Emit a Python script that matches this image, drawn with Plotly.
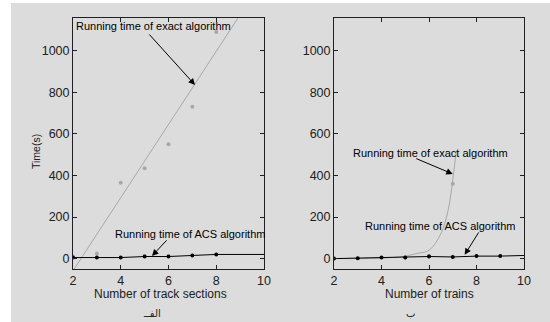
import plotly.graph_objects as go

W, H = 550, 322

# ---- data: left panel (track sections) ----
sec_x = [2, 3, 4, 5, 6, 7, 8]
sec_acs = [5, 5, 5, 10, 10, 15, 20]
sec_acs_line_x = [2, 3, 4, 5, 6, 7, 8, 10]
sec_acs_line_y = [5, 5, 5, 10, 10, 15, 20, 20]
sec_exact = [10, 25, 365, 435, 550, 730, 1090]
sec_fit_x = [2.05, 8.91]
sec_fit_y = [-50, 1157]

# ---- data: right panel (trains) ----
tr_x = [2, 3, 4, 5, 6, 7, 8, 9]
tr_acs = [0, 2, 5, 5, 10, 8, 12, 12]
tr_acs_line_x = [2, 3, 4, 5, 6, 7, 8, 9, 10]
tr_acs_line_y = [0, 2, 5, 5, 10, 8, 12, 12, 15]
tr_exact_x = [5, 6, 7]
tr_exact = [5, 13, 360]
tr_curve_x = [2, 3, 4, 4.5, 5, 5.5, 6, 6.5, 6.8, 7, 7.15]
tr_curve_y = [0, 0, 2, 6, 12, 25, 40, 120, 230, 380, 520]

x_ticks = [2, 4, 6, 8, 10]
y_ticks = [0, 200, 400, 600, 800, 1000]

BG = "#dcdcdc"
GRAY = "#a8a8a8"
FONT = "Liberation Sans, Arial, sans-serif"

def px_x(p):
    return p / W

def px_y(p):
    return 1 - p / H

fig = go.Figure()

# left panel
fig.add_trace(go.Scatter(x=sec_fit_x, y=sec_fit_y, mode="lines",
                         line=dict(color=GRAY, width=1), xaxis="x", yaxis="y"))
fig.add_trace(go.Scatter(x=sec_x, y=sec_exact, mode="markers",
                         marker=dict(color=GRAY, size=4), xaxis="x", yaxis="y"))
fig.add_trace(go.Scatter(x=sec_acs_line_x, y=sec_acs_line_y, mode="lines",
                         line=dict(color="black", width=1), xaxis="x", yaxis="y"))
fig.add_trace(go.Scatter(x=sec_x, y=sec_acs, mode="markers",
                         marker=dict(color="black", size=4), xaxis="x", yaxis="y"))

# right panel
fig.add_trace(go.Scatter(x=tr_curve_x, y=tr_curve_y, mode="lines",
                         line=dict(color=GRAY, width=1, shape="spline"),
                         xaxis="x2", yaxis="y2"))
fig.add_trace(go.Scatter(x=tr_exact_x, y=tr_exact, mode="markers",
                         marker=dict(color=GRAY, size=4), xaxis="x2", yaxis="y2"))
fig.add_trace(go.Scatter(x=tr_acs_line_x, y=tr_acs_line_y, mode="lines",
                         line=dict(color="black", width=1), xaxis="x2", yaxis="y2"))
fig.add_trace(go.Scatter(x=tr_x, y=tr_acs, mode="markers",
                         marker=dict(color="black", size=4), xaxis="x2", yaxis="y2"))

ax_common = dict(showline=True, mirror="ticks", linecolor="#202020", linewidth=1,
                 ticks="inside", ticklen=4, tickcolor="#202020", showgrid=False,
                 zeroline=False, automargin=False,
                 tickfont=dict(family=FONT, size=12.5, color="#202020"))

ydom = [px_y(269), px_y(18)]
fig.update_layout(
    width=W, height=H, margin=dict(l=0, r=0, t=0, b=0),
    paper_bgcolor=BG, plot_bgcolor=BG, showlegend=False,
    xaxis=dict(domain=[px_x(73), px_x(264)], range=[2, 10], tickvals=x_ticks,
               anchor="y", **ax_common),
    yaxis=dict(domain=ydom, range=[-50, 1157], tickvals=y_ticks, anchor="x",
               **ax_common),
    xaxis2=dict(domain=[px_x(334), px_x(524)], range=[2, 10], tickvals=x_ticks,
                anchor="y2", **ax_common),
    yaxis2=dict(domain=ydom, range=[-50, 1157], tickvals=y_ticks, anchor="x2",
                **ax_common),
)

# gray page area with white border strips (top and left)
fig.add_shape(type="rect", xref="paper", yref="paper", x0=0, x1=1, y0=0, y1=1,
              fillcolor=BG, line=dict(width=0), layer="below")
fig.add_shape(type="rect", xref="paper", yref="paper", x0=0, x1=px_x(11), y0=0, y1=1,
              fillcolor="white", line=dict(width=0), layer="below")
fig.add_shape(type="rect", xref="paper", yref="paper", x0=0, x1=1, y0=px_y(3), y1=1,
              fillcolor="white", line=dict(width=0), layer="below")

afont = dict(family=FONT, size=11, color="black")

def arrow(xr, yr, tip_x, tip_y, tail_x, tail_y):
    fig.add_annotation(xref=xr, yref=yr, axref=xr, ayref=yr, x=tip_x, y=tip_y,
                       ax=tail_x, ay=tail_y, text="", showarrow=True,
                       arrowhead=2, arrowsize=1.3, arrowwidth=1, arrowcolor="black")

# left annotations
fig.add_annotation(xref="x", yref="y", x=2.05, y=1119, text="Running time of exact algorithm",
                   showarrow=False, xanchor="left", yanchor="middle", font=afont)
arrow("x", "y", 7.11, 835, 5.14, 1085)
fig.add_annotation(xref="x", yref="y", x=6.9, y=118, text="Running time of ACS algorithm",
                   showarrow=False, xanchor="center", yanchor="middle", font=afont)
arrow("x", "y", 5.31, 13, 5.98, 95)

# right annotations
fig.add_annotation(xref="x2", yref="y2", x=6.05, y=510, text="Running time of exact algorithm",
                   showarrow=False, xanchor="center", yanchor="middle", font=afont)
arrow("x2", "y2", 7.0, 407, 5.4, 484)
fig.add_annotation(xref="x2", yref="y2", x=6.45, y=158, text="Running time of ACS algorithm",
                   showarrow=False, xanchor="center", yanchor="middle", font=afont)
arrow("x2", "y2", 7.5, 18, 8.13, 133)

def paper_text(x, y, text, font, angle=0):
    fig.add_annotation(xref="paper", yref="paper", x=px_x(x), y=px_y(y), text=text,
                       showarrow=False, xanchor="center", yanchor="middle",
                       textangle=angle, font=font)

tfont = dict(family=FONT, size=12, color="#202020")
paper_text(160, 294, "Number of track sections", tfont)
paper_text(429, 294, "Number of trains", tfont)
paper_text(36, 152, "Time(s)", dict(family=FONT, size=10.5, color="#202020"), -90)
cfont = dict(family="DejaVu Sans, Noto Sans, sans-serif", size=10, color="#202020")
paper_text(152, 313, "الفــ", cfont)
paper_text(410, 313, "ب", cfont)

fig.write_html("out.html", config={"displayModeBar": False},
               post_script="document.body.style.margin='0';"
                           "document.body.style.overflow='hidden';"
                           "document.body.style.background='#dcdcdc';")
